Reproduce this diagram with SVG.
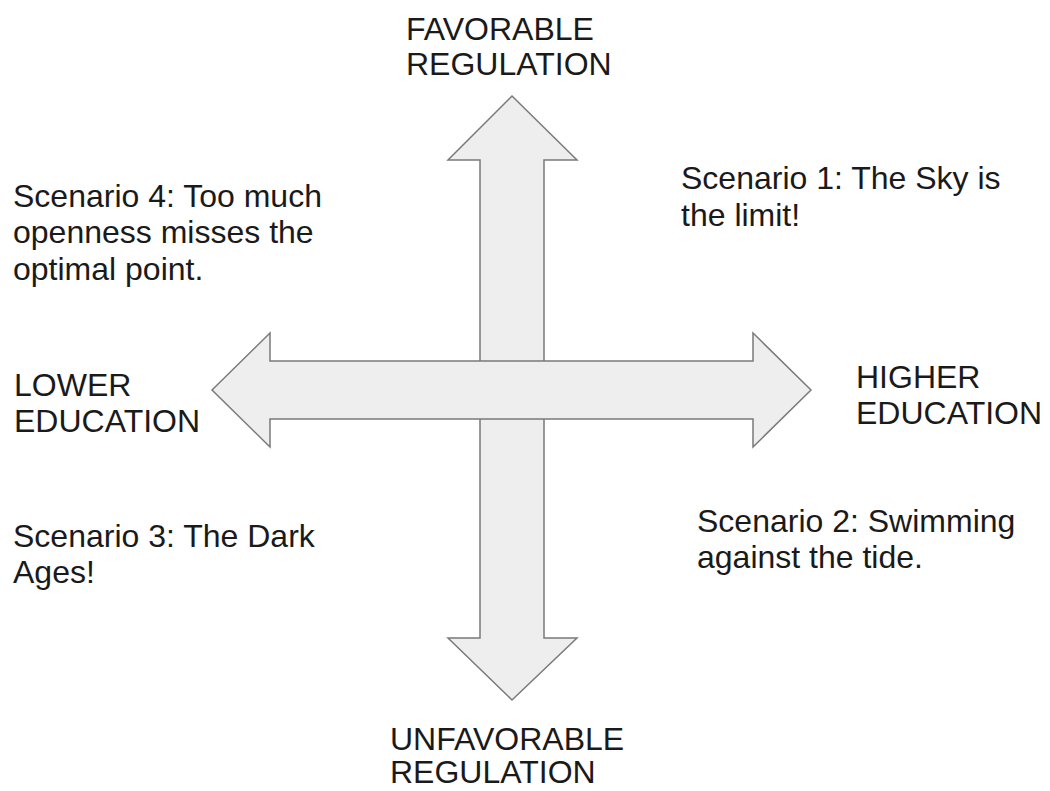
<svg xmlns="http://www.w3.org/2000/svg" width="1050" height="791" viewBox="0 0 1050 791">
<style>
.arrow{fill:#eeeeee;stroke:#7a7a7a;stroke-width:1.5;stroke-linejoin:miter}
.t{font-family:"Liberation Sans",Arial,sans-serif;font-size:32px;fill:#1a1a1a}
</style>
<rect width="1050" height="791" fill="#ffffff"/>
<g id="connectors">
<polygon id="vertical-arrow" class="arrow" points="512,96 577,160 544,160 544,638 577,638 512,700 448,638 480,638 480,160 448,160"/>
<polygon id="horizontal-arrow" class="arrow" points="212,390 270,333 270,361 753,361 753,333 811,390 753,447 753,419 270,419 270,447"/>
</g>
<g id="favorable">
<text class="t" x="406" y="40">FAVORABLE</text>
<text class="t" x="406" y="75">REGULATION</text>
</g>
<g id="unfavorable">
<text class="t" x="390" y="750">UNFAVORABLE</text>
<text class="t" x="390" y="783">REGULATION</text>
</g>
<g id="lower">
<text class="t" x="14" y="396">LOWER</text>
<text class="t" x="14" y="432">EDUCATION</text>
</g>
<g id="higher">
<text class="t" x="856" y="388">HIGHER</text>
<text class="t" x="856" y="424">EDUCATION</text>
</g>
<g id="scenario1">
<text class="t" x="681" y="189">Scenario 1: The Sky is</text>
<text class="t" x="681" y="226">the limit!</text>
</g>
<g id="scenario2">
<text class="t" x="697" y="532">Scenario 2: Swimming</text>
<text class="t" x="697" y="568">against the tide.</text>
</g>
<g id="scenario3">
<text class="t" x="13" y="547">Scenario 3: The Dark</text>
<text class="t" x="13" y="583">Ages!</text>
</g>
<g id="scenario4">
<text class="t" x="13" y="207">Scenario 4: Too much</text>
<text class="t" x="13" y="243">openness misses the</text>
<text class="t" x="13" y="280">optimal point.</text>
</g>
</svg>
